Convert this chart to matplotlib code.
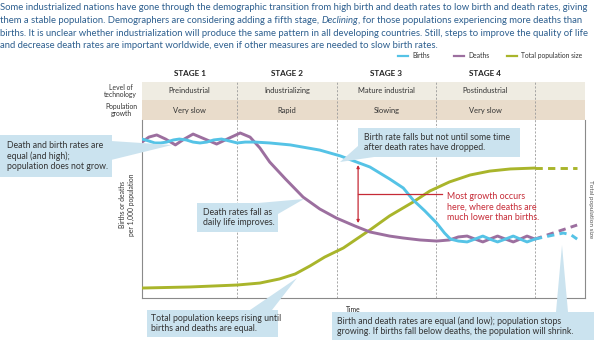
import matplotlib
matplotlib.use("Agg")
import matplotlib.pyplot as plt
from matplotlib.patches import Rectangle, Polygon

plt.rcParams['font.family'] = ['Lato', 'DejaVu Sans']

# stage boundaries on the time axis
stage_edges = [0, 0.97, 1.985, 2.99, 4.0]
stage_names = ["STAGE 1", "STAGE 2", "STAGE 3", "STAGE 4"]
technology = ["Preindustrial", "Industrializing", "Mature industrial", "Postindustrial"]
growth = ["Very slow", "Rapid", "Slowing", "Very slow"]

# births per 1,000
births_t = [0, 0.07, 0.13, 0.19, 0.25, 0.32, 0.38, 0.45, 0.52, 0.59, 0.66, 0.73, 0.81, 0.89,
            0.97, 1.05, 1.15, 1.30, 1.51, 1.81, 2.02, 2.32, 2.52, 2.66, 2.76, 2.88, 3.00,
            3.08, 3.14, 3.22, 3.31, 3.39, 3.47, 3.54, 3.62, 3.70, 3.78, 3.85, 3.92, 4.00]
births = [89.3, 88.2, 87.1, 87.1, 87.6, 88.8, 89.3, 88.8, 87.6, 87.1, 87.6, 88.8, 89.3, 88.2,
          87.1, 87.6, 87.6, 87.1, 86.0, 83.1, 79.8, 73.6, 66.9, 61.8, 55.1, 48.9, 42.1,
          36.5, 33.1, 32.0, 31.5, 33.1, 34.8, 33.1, 31.5, 33.1, 34.8, 33.1, 31.5, 33.1]
births_future_t = [4.00, 4.14, 4.29, 4.37, 4.43]
births_future = [33.1, 34.8, 36.5, 35.4, 33.1]

# deaths per 1,000
deaths_t = [0, 0.07, 0.15, 0.24, 0.34, 0.43, 0.52, 0.64, 0.76, 0.89, 1.00, 1.10, 1.20, 1.30,
            1.46, 1.64, 1.81, 1.98, 2.17, 2.32, 2.52, 2.66, 2.83, 3.00, 3.13, 3.22, 3.31,
            3.39, 3.47, 3.54, 3.62, 3.70, 3.78, 3.85, 3.92, 4.00]
deaths = [87.6, 90.4, 91.6, 89.3, 86.0, 89.3, 92.1, 89.3, 86.5, 89.9, 92.7, 90.4, 84.3, 76.4,
          66.9, 56.7, 50.0, 44.9, 40.4, 37.1, 34.8, 33.7, 32.6, 32.0, 32.6, 34.3, 34.8,
          33.1, 31.5, 33.1, 34.8, 33.1, 31.5, 33.1, 34.8, 33.1]
deaths_future_t = [4.00, 4.43]
deaths_future = [33.1, 41.0]

# total population size
pop_t = [0, 0.49, 0.97, 1.20, 1.40, 1.56, 1.71, 1.86, 2.05, 2.17, 2.32, 2.52, 2.76, 2.93,
         3.13, 3.34, 3.54, 3.75, 4.00]
pop = [5.6, 6.2, 7.3, 8.4, 10.7, 13.5, 18.0, 23.0, 28.1, 32.6, 38.2, 46.1, 53.9, 60.1,
       65.2, 69.1, 71.3, 72.5, 73.0]
pop_future_t = [4.00, 4.43]
pop_future = [73.0, 73.0]

# gap between births and deaths in stage 2/3 (red arrow)
gap_t = 2.20
gap_top, gap_bottom = 74.7, 42.1

c_birth = '#55c3e6'
c_death = '#9c6f9f'
c_pop = '#a9b52b'
c_red = '#c62a36'
c_box = '#cbe3ef'
c_txt = '#333333'
c_head = '#2d5f8f'

W, H = 594, 340
fig = plt.figure(figsize=(W / 100, H / 100), dpi=100)


def fx(px):
    return px / W


def fy(py):
    return 1 - py / H


ax = fig.add_axes([fx(142), fy(298), 443 / W, 178 / H])
ax.set_xlim(0, 4.51)
ax.set_ylim(0, 100)
ax.set_xticks([])
ax.set_yticks([])
ax.spines['top'].set_visible(False)
for s in ['left', 'bottom', 'right']:
    ax.spines[s].set_color('#8a8a8a')
    ax.spines[s].set_linewidth(0.8)

# table bands above the plot
ax.add_patch(Rectangle((0, 1.1124), 1, 0.1011, transform=ax.transAxes,
                       facecolor='#efece2', edgecolor='none', clip_on=False, zorder=0))
ax.add_patch(Rectangle((0, 1.0), 1, 0.1124, transform=ax.transAxes,
                       facecolor='#e9dccb', edgecolor='none', clip_on=False, zorder=0))
for e in stage_edges[1:]:
    ax.axvline(e, ymin=0, ymax=1.2135, color='#9a9a9a', lw=0.6, ls=(0, (2.5, 2)),
               clip_on=False, zorder=1)

xt = ax.get_xaxis_transform()
for i in range(4):
    mid = (stage_edges[i] + stage_edges[i + 1]) / 2
    ax.text(mid, 1.264, stage_names[i], transform=xt, ha='center', va='center',
            fontsize=5.9, fontweight='bold', color='#222222')
    ax.text(mid, 1.163, technology[i], transform=xt, ha='center', va='center',
            fontsize=5.4, color=c_txt)
    ax.text(mid, 1.056, growth[i], transform=xt, ha='center', va='center',
            fontsize=5.4, color=c_txt)

fig.text(fx(137), fy(91), "Level of\ntechnology", ha='right', va='center',
         multialignment='center', fontsize=4.9, color=c_txt, linespacing=1.1)
fig.text(fx(137), fy(110), "Population\ngrowth", ha='right', va='center',
         multialignment='center', fontsize=4.9, color=c_txt, linespacing=1.1)

# curves
lw = 2.1
ax.plot(pop_t, pop, color=c_pop, lw=lw, solid_capstyle='round', zorder=3)
ax.plot(pop_future_t, pop_future, color=c_pop, lw=lw, ls=(0, (2.5, 1.8)), zorder=3)
ax.plot(deaths_t, deaths, color=c_death, lw=lw, solid_capstyle='round', zorder=3)
ax.plot(deaths_future_t, deaths_future, color=c_death, lw=lw, ls=(0, (2.5, 1.8)), zorder=3)
ax.plot(births_t, births, color=c_birth, lw=lw, solid_capstyle='round', zorder=4)
ax.plot(births_future_t, births_future, color=c_birth, lw=lw, ls=(0, (2.5, 1.8)), zorder=4)

# red arrow showing the gap
ax.annotate('', xy=(gap_t, gap_top), xytext=(gap_t, gap_bottom),
            arrowprops=dict(arrowstyle='<|-|>', color=c_red, lw=0.9,
                            mutation_scale=4, shrinkA=0, shrinkB=0))
ax.plot([gap_t, 3.05], [(gap_top + gap_bottom) / 2] * 2, color=c_red, lw=0.9,
        clip_on=False, zorder=5)
fig.text(fx(447), fy(207), "Most growth occurs\nhere, where deaths are\nmuch lower than births.",
         ha='left', va='center', fontsize=6.4, color=c_red, linespacing=1.15)

ax.text(0.46, -0.045, "Time", transform=ax.transAxes, ha='left', va='top',
        fontsize=4.9, color='#222222')
fig.text(fx(127), fy(205), "Births or deaths\nper 1,000 population", rotation=90,
         ha='center', va='center', fontsize=4.9, color=c_txt, linespacing=1.2)
fig.text(fx(590), fy(209), "Total population size", rotation=270, ha='center',
         va='center', fontsize=4.6, color='#555555')

# header text
head = dict(fontsize=6.8, color=c_head, ha='left', va='center')
fig.text(0, fy(8), "Some industrialized nations have gone through the demographic transition "
         "from high birth and death rates to low birth and death rates, giving", **head)
t1 = fig.text(0, fy(20.5), "them a stable population. Demographers are considering adding a fifth stage, ",
              **head)
t2 = fig.text(0, 0, "Declining", style='italic', **head)
t3 = fig.text(0, 0, ", for those populations experiencing more deaths than", **head)
fig.canvas.draw()
r = fig.canvas.get_renderer()
bb = t1.get_window_extent(r)
t2.set_position((bb.x1 / W, fy(20.5)))
bb2 = t2.get_window_extent(r)
t3.set_position((bb2.x1 / W, fy(20.5)))
fig.text(0, fy(33), "births. It is unclear whether industrialization will produce the same pattern "
         "in all developing countries. Still, steps to improve the quality of life", **head)
fig.text(0, fy(45.5), "and decrease death rates are important worldwide, even if other measures "
         "are needed to slow birth rates.", **head)

# legend
for x0, col, lab in [(398, c_birth, "Births"), (454, c_death, "Deaths"),
                     (507, c_pop, "Total population size")]:
    fig.add_artist(plt.Line2D([fx(x0), fx(x0 + 10)], [fy(55.5)] * 2, color=col, lw=1.6))
    fig.text(fx(x0 + 14), fy(55.5), lab, fontsize=4.9, color=c_txt, ha='left', va='center')

# callout boxes
callouts = [
    ((0, 135, 112, 177), [(111, 141), (111, 160), (172, 145)], (7, 156),
     "Death and birth rates are\nequal (and high);\npopulation does not grow."),
    ((358, 128, 520, 157), [(358, 146), (358, 157), (374, 157), (340, 162)], (364, 142.5),
     "Birth rate falls but not until some time\nafter death rates have dropped."),
    ((197, 203, 278, 232), [(258, 203), (278, 203), (278, 214), (304, 199)], (203, 217.5),
     "Death rates fall as\ndaily life improves."),
    ((147, 310, 278, 337), [(250, 310), (272, 310), (297, 278)], (151, 323.5),
     "Total population keeps rising until\nbirths and deaths are equal."),
    ((332, 312, 594, 340), [(556, 312), (568, 312), (562, 245)], (337, 326),
     "Birth and death rates are equal (and low); population stops\n"
     "growing. If births fall below deaths, the population will shrink."),
]
for (x0, y0, x1, y1), wedge, (tx, ty), txt in callouts:
    fig.add_artist(Rectangle((fx(x0), fy(y1)), (x1 - x0) / W, (y1 - y0) / H,
                             transform=fig.transFigure, facecolor=c_box, edgecolor='none',
                             zorder=6))
    fig.add_artist(Polygon([(fx(a), fy(b)) for a, b in wedge], closed=True,
                           transform=fig.transFigure, facecolor=c_box, edgecolor='none',
                           zorder=6))
    fig.text(fx(tx), fy(ty), txt, ha='left', va='center', fontsize=6.3, color=c_txt,
             linespacing=1.15, zorder=7)

fig.savefig("out.png", dpi=100)
